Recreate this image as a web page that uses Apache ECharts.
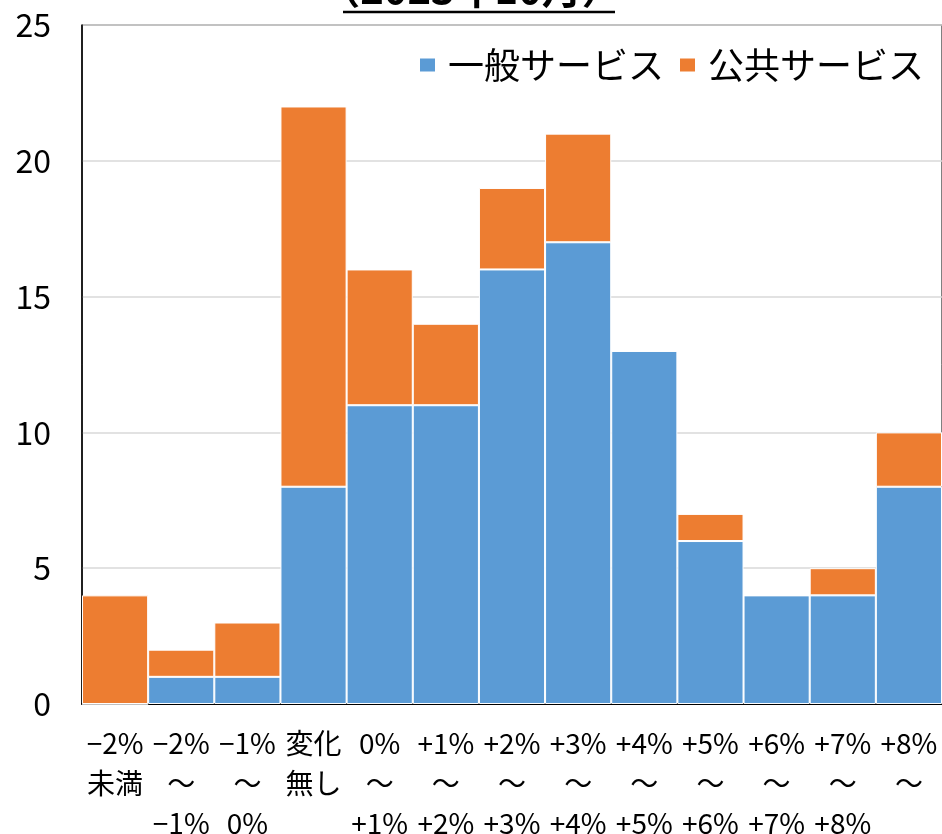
<!DOCTYPE html>
<html>
<head>
<meta charset="utf-8">
<script src="https://cdn.jsdelivr.net/npm/echarts@6/dist/echarts.min.js"></script>
<style>
  html, body { margin: 0; padding: 0; background: #fff; }
  #chart { width: 942px; height: 834px; }
</style>
</head>
<body>
<div id="chart"></div>
<script>
// Price-change bins (category axis)
const categories = [
  '−2%\n未満', '−2%\n〜\n−1%', '−1%\n〜\n0%', '変化\n無し',
  '0%\n〜\n+1%', '+1%\n〜\n+2%', '+2%\n〜\n+3%', '+3%\n〜\n+4%',
  '+4%\n〜\n+5%', '+5%\n〜\n+6%', '+6%\n〜\n+7%', '+7%\n〜\n+8%', '+8%\n〜'
];
// Counts per bin
const generalServices = [0, 1, 1, 8, 11, 11, 16, 17, 13, 6, 4, 4, 8];
const publicServices  = [4, 1, 2, 14, 5, 3, 3, 4, 0, 1, 0, 1, 2];
const seriesNames = ['一般サービス', '公共サービス'];
const titleText = '（2023年10月）';

const FONT = '"Noto Sans CJK JP", "Noto Sans", sans-serif';
const chart = echarts.init(document.getElementById('chart'), null, { renderer: 'canvas' });

chart.setOption({
  backgroundColor: '#ffffff',
  animation: false,
  textStyle: { fontFamily: FONT },
  grid: {
    left: 82, right: 0, top: 25, bottom: 130,
    containLabel: false, outerBoundsMode: 'none',
    show: true, borderColor: '#000', borderWidth: 1, backgroundColor: 'transparent'
  },
  legend: {
    right: 13, top: 42,
    itemWidth: 17, itemHeight: 15, itemGap: 14,
    icon: 'rect',
    textStyle: { fontSize: 36, color: '#000', fontFamily: FONT, padding: [0, 0, 0, 7] },
    data: seriesNames
  },
  graphic: [
    {
      type: 'text', left: 'center', top: -31,
      style: { text: titleText, fontSize: 40, fontWeight: 'bold', fill: '#000', fontFamily: FONT }
    },
    {
      type: 'line',
      shape: { x1: 343, y1: 12, x2: 615, y2: 12 },
      style: { stroke: '#000', lineWidth: 2.5 }
    }
  ],
  xAxis: {
    type: 'category',
    data: categories,
    axisLine: { show: true, lineStyle: { color: '#000', width: 2 } },
    axisTick: { show: false },
    axisLabel: {
      interval: 0, margin: 19, color: '#000',
      fontSize: 28, lineHeight: 40, fontFamily: FONT, verticalAlign: 'top'
    }
  },
  yAxis: {
    type: 'value',
    min: 0, max: 25, interval: 5,
    axisLine: { show: true, lineStyle: { color: '#000', width: 1.5 } },
    axisTick: { show: false },
    splitLine: { lineStyle: { color: '#d9d9d9', width: 1.5 } },
    axisLabel: { color: '#000', fontSize: 32, margin: 31, fontFamily: FONT }
  },
  series: [
    {
      name: seriesNames[0], type: 'bar', stack: 'total',
      data: generalServices, barCategoryGap: 0,
      itemStyle: { color: '#5B9BD5', borderColor: '#fff', borderWidth: 1 }
    },
    {
      name: seriesNames[1], type: 'bar', stack: 'total',
      data: publicServices, barCategoryGap: 0,
      itemStyle: { color: '#ED7D31', borderColor: '#fff', borderWidth: 1 }
    }
  ]
});
</script>
</body>
</html>
